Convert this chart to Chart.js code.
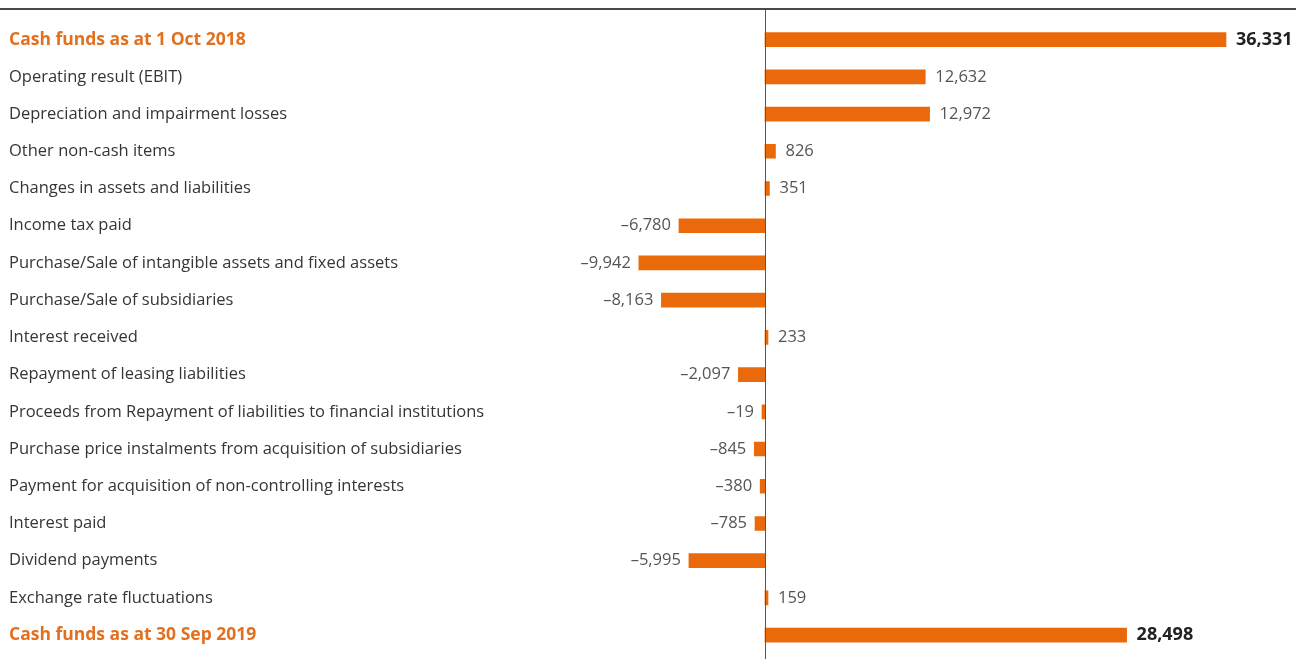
<!DOCTYPE html>
<html>
<head>
<meta charset="utf-8">
<script src="https://cdn.jsdelivr.net/npm/chart.js@4"></script>
<style>
html,body{margin:0;padding:0;background:#fff;}
#wrap{width:1296px;height:659px;position:relative;}
</style>
</head>
<body>
<div id="wrap"><canvas id="c" width="1296" height="659"></canvas></div>
<script>
const categories = [
  "Cash funds as at 1 Oct 2018",
  "Operating result (EBIT)",
  "Depreciation and impairment losses",
  "Other non-cash items",
  "Changes in assets and liabilities",
  "Income tax paid",
  "Purchase/Sale of intangible assets and fixed assets",
  "Purchase/Sale of subsidiaries",
  "Interest received",
  "Repayment of leasing liabilities",
  "Proceeds from Repayment of liabilities to financial institutions",
  "Purchase price instalments from acquisition of subsidiaries",
  "Payment for acquisition of non-controlling interests",
  "Interest paid",
  "Dividend payments",
  "Exchange rate fluctuations",
  "Cash funds as at 30 Sep 2019"
];
const values = [36331, 12632, 12972, 826, 351, -6780, -9942, -8163, 233, -2097, -19, -845, -380, -785, -5995, 159, 28498];
const totalRows = [0, 16];

const ORANGE = "#EA6A0B";
const LABEL_ORANGE = "#E2701F";
const TEXT = "#353535";

function fmt(v){
  const s = Math.abs(v).toLocaleString('en-US');
  return v < 0 ? "\u2013" + s : s;
}

const decor = {
  id: 'decor',
  afterDraw(chart){
    const ctx = chart.ctx;
    const xs = chart.scales.x;
    const x0 = Math.round(xs.getPixelForValue(0)) + 0.5;
    ctx.save();
    ctx.strokeStyle = "#4a4a4a";
    ctx.lineWidth = 2;
    ctx.beginPath(); ctx.moveTo(0, 9); ctx.lineTo(1296, 9); ctx.stroke();
    ctx.strokeStyle = "#555";
    ctx.lineWidth = 1;
    ctx.beginPath(); ctx.moveTo(x0, 10); ctx.lineTo(x0, 659); ctx.stroke();
    const meta = chart.getDatasetMeta(0);
    ctx.textBaseline = 'middle';
    meta.data.forEach((bar, i) => {
      const v = values[i];
      const total = totalRows.includes(i);
      ctx.font = total ? "bold 18px 'Open Sans', sans-serif" : "16.5px 'Open Sans', sans-serif";
      ctx.fillStyle = total ? "#222" : "#555";
      if (v >= 0) {
        ctx.textAlign = 'left';
        ctx.fillText(fmt(v), bar.x + 10, bar.y);
      } else {
        ctx.textAlign = 'right';
        ctx.fillText(fmt(v), bar.x - 8, bar.y);
      }
    });
    ctx.restore();
  }
};

new Chart(document.getElementById('c'), {
  type: 'bar',
  data: {
    labels: categories,
    datasets: [{
      data: values,
      backgroundColor: ORANGE,
      borderWidth: 0,
      barThickness: 14,
      minBarLength: 3
    }]
  },
  options: {
    responsive: false,
    animation: false,
    indexAxis: 'y',
    layout: { padding: { left: 9, right: 6, top: 21, bottom: 0 } },
    plugins: { legend: { display: false }, tooltip: { enabled: false } },
    scales: {
      x: {
        display: false,
        min: -20884,
        max: 41375
      },
      y: {
        grid: { display: false },
        border: { display: false },
        ticks: {
          crossAlign: 'far',
          autoSkip: false,
          padding: 0,
          color: (c) => totalRows.includes(c.index) ? LABEL_ORANGE : TEXT,
          font: (c) => totalRows.includes(c.index)
            ? { family: "'Open Sans', sans-serif", size: 17.5, weight: 'bold', lineHeight: 0.6 }
            : { family: "'Open Sans', sans-serif", size: 16.5, lineHeight: 0.6 }
        },
        afterFit(scale){ scale.width = 491; }
      }
    }
  },
  plugins: [decor]
});
</script>
</body>
</html>
